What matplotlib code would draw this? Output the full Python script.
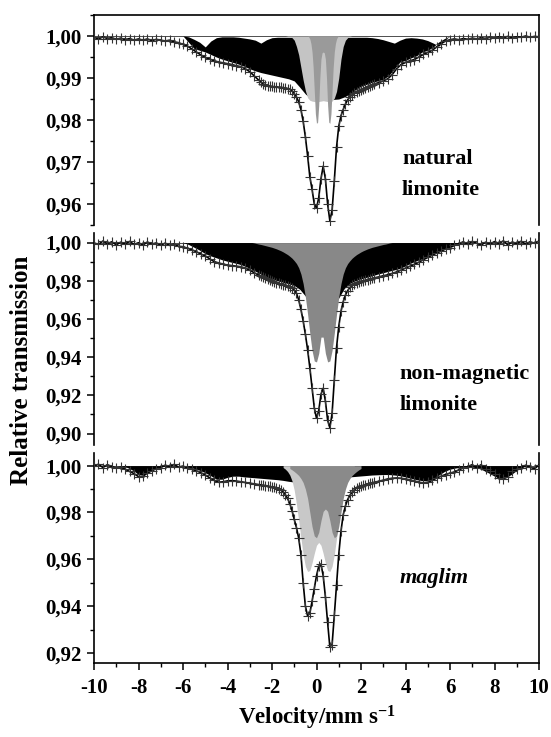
import numpy as np
import matplotlib
matplotlib.use("Agg")
import matplotlib.pyplot as plt
from matplotlib.ticker import MultipleLocator, FuncFormatter

# channel velocities: coarse outside, finer around the central doublet
VEL = np.concatenate([
    np.round(np.arange(-10.0, -2.55, 0.2), 2),
    np.round(np.arange(-2.5, 2.55, 0.1), 2),
    np.round(np.arange(2.6, 10.05, 0.2), 2),
])

# ---- natural limonite ----
nat_counts = (
    [0.9997, 0.9993, 0.9998, 0.9994, 0.9996, 0.9992, 0.9995, 0.9991, 0.9994, 0.9990,
     0.9993, 0.9990, 0.9993, 0.9989, 0.9992, 0.9990, 0.9988, 0.9990, 0.9986, 0.9984,
     0.9980, 0.9976, 0.9969, 0.9962, 0.9955, 0.9949, 0.9945, 0.9941, 0.9938, 0.9936,
     0.9934, 0.9932, 0.9929, 0.9927, 0.9922, 0.9915, 0.9905, 0.9895]
    + [0.9890, 0.9886, 0.9884, 0.9882, 0.9881, 0.9880, 0.9879, 0.9879, 0.9878, 0.9878,
       0.9877, 0.9876, 0.9875, 0.9873, 0.9870, 0.9863, 0.9855, 0.9843, 0.9825, 0.9797,
       0.9760, 0.9715, 0.9665, 0.9635, 0.9600, 0.9590, 0.9615, 0.9660, 0.9690, 0.9660,
       0.9600, 0.9560, 0.9585, 0.9655, 0.9735, 0.9785, 0.9810, 0.9825, 0.9838, 0.9848,
       0.9855, 0.9860, 0.9864, 0.9867, 0.9870, 0.9872, 0.9875, 0.9877, 0.9879, 0.9882,
       0.9884]
    + [0.9886, 0.9889, 0.9893, 0.9898, 0.9908, 0.9922, 0.9932, 0.9937, 0.9941, 0.9944,
       0.9950, 0.9956, 0.9961, 0.9966, 0.9974, 0.9982, 0.9988, 0.9991, 0.9993, 0.9991,
       0.9994, 0.9992, 0.9995, 0.9993, 0.9996, 0.9994, 0.9997, 0.9995, 0.9998, 0.9996,
       0.9999, 0.9996, 0.9998, 0.9997, 1.0000, 0.9997, 0.9999, 0.9998]
)
nat_mag_v = np.arange(-6.0, 6.01, 0.25)
nat_mag_top = [
    1.0, 0.9998, 0.9992, 0.9985, 0.9974, 0.9988, 0.9996, 0.9998, 0.9998, 0.9998,
    0.9997, 0.9995, 0.9993, 0.9990, 0.9983, 0.9991, 0.9996, 0.9997, 0.9997, 0.9997,
    0.9997, 0.9997, 0.9997, 0.9997, 0.9997, 0.9997, 0.9997, 0.9997, 0.9997, 0.9997,
    0.9997, 0.9997, 0.9997, 0.9997, 0.9996, 0.9994, 0.9991, 0.9987, 0.9983, 0.9990,
    0.9995, 0.9996, 0.9995, 0.9993, 0.9989, 0.9983, 0.9976, 0.9990, 1.0]
nat_mag_bot = [
    1.0, 0.9985, 0.9970, 0.9966, 0.9962, 0.9956, 0.9950, 0.9945, 0.9941, 0.9937,
    0.9933, 0.9928, 0.9922, 0.9917, 0.9913, 0.9910, 0.9907, 0.9904, 0.9901, 0.9898,
    0.9893, 0.9878, 0.9862, 0.9851, 0.9848, 0.9848, 0.9848, 0.9849, 0.9850, 0.9855,
    0.9862, 0.9872, 0.9880, 0.9885, 0.9890, 0.9893, 0.9897, 0.9906, 0.9922, 0.9938,
    0.9942, 0.9948, 0.9953, 0.9962, 0.9966, 0.9974, 0.9986, 0.9994, 1.0]
nat_d1_v = np.arange(-1.5, 1.85, 0.1)
nat_d1 = [
    1.0, 1.0, 0.9999, 0.9998, 0.9996, 0.9990, 0.9975, 0.9955, 0.9925, 0.9895,
    0.9870, 0.9853, 0.9847, 0.9845, 0.9844, 0.9843, 0.9844, 0.9845, 0.9846, 0.9845,
    0.9844, 0.9843, 0.9845, 0.9852, 0.9868, 0.9900, 0.9945, 0.9975, 0.9990, 0.9996,
    0.9999, 1.0, 1.0, 1.0]
nat_d2_v = np.arange(-0.4, 1.01, 0.05)
nat_d2 = [
    1.0, 0.9998, 0.9993, 0.9982, 0.9962, 0.9925, 0.9870, 0.9815, 0.9792, 0.9795,
    0.9835, 0.9900, 0.9945, 0.9960, 0.9962, 0.9960, 0.9945, 0.9900, 0.9835, 0.9795,
    0.9792, 0.9815, 0.9870, 0.9925, 0.9962, 0.9982, 0.9993, 0.9998, 1.0]

# ---- non-magnetic limonite ----
nonmag_counts = (
    [0.9998, 0.9990, 1.0008, 0.9994, 1.0004, 0.9988, 1.0002, 0.9993, 1.0006, 0.9990,
     0.9999, 0.9987, 1.0003, 0.9992, 0.9998, 0.9986, 0.9997, 0.9985, 0.9992, 0.9980,
     0.9978, 0.9970, 0.9962, 0.9952, 0.9940, 0.9930, 0.9915, 0.9900, 0.9893, 0.9887,
     0.9882, 0.9879, 0.9876, 0.9873, 0.9866, 0.9855, 0.9842, 0.9830]
    + [0.9825, 0.9818, 0.9812, 0.9808, 0.9803, 0.9798, 0.9794, 0.9790, 0.9786, 0.9783,
       0.9780, 0.9777, 0.9773, 0.9768, 0.9762, 0.9752, 0.9735, 0.9700, 0.9650, 0.9590,
       0.9520, 0.9440, 0.9345, 0.9240, 0.9135, 0.9080, 0.9120, 0.9205, 0.9237, 0.9170,
       0.9070, 0.9030, 0.9105, 0.9280, 0.9450, 0.9560, 0.9640, 0.9690, 0.9725, 0.9748,
       0.9765, 0.9777, 0.9785, 0.9790, 0.9794, 0.9797, 0.9800, 0.9803, 0.9806, 0.9809,
       0.9812]
    + [0.9815, 0.9820, 0.9826, 0.9831, 0.9838, 0.9846, 0.9856, 0.9866, 0.9876, 0.9886,
       0.9897, 0.9910, 0.9922, 0.9934, 0.9945, 0.9955, 0.9966, 0.9974, 0.9985, 0.9994,
       1.0004, 0.9990, 1.0006, 0.9996, 0.9987, 1.0002, 0.9992, 1.0005, 0.9995, 1.0009,
       0.9988, 1.0003, 0.9994, 1.0007, 0.9992, 1.0004, 0.9996, 1.0008]
)
nonmag_mag_v = np.arange(-6.0, 6.51, 0.25)
nonmag_mag = [
    1.0, 0.9990, 0.9975, 0.9960, 0.9942, 0.9930, 0.9920, 0.9910, 0.9902, 0.9895,
    0.9888, 0.9878, 0.9865, 0.9850, 0.9835, 0.9822, 0.9810, 0.9800, 0.9792, 0.9784,
    0.9775, 0.9755, 0.9720, 0.9670, 0.9645, 0.9640, 0.9645, 0.9665, 0.9710, 0.9760,
    0.9785, 0.9800, 0.9810, 0.9818, 0.9826, 0.9835, 0.9842, 0.9850, 0.9857, 0.9865,
    0.9878, 0.9893, 0.9905, 0.9915, 0.9930, 0.9942, 0.9954, 0.9966, 0.9978, 0.9990,
    1.0]
nonmag_dbl_v = np.arange(-2.9, 3.45, 0.1)
nonmag_dbl = [
    1.0, 0.9998, 0.9995, 0.9992, 0.9990, 0.9987, 0.9984, 0.9981, 0.9978, 0.9975,
    0.9971, 0.9967, 0.9962, 0.9957, 0.9951, 0.9944, 0.9937, 0.9928, 0.9918, 0.9905,
    0.9890, 0.9868, 0.9835, 0.9785, 0.9715, 0.9625, 0.9525, 0.9435, 0.9380, 0.9375,
    0.9420, 0.9505, 0.9505, 0.9420, 0.9375, 0.9380, 0.9435, 0.9525, 0.9625, 0.9715,
    0.9785, 0.9835, 0.9868, 0.9890, 0.9905, 0.9918, 0.9928, 0.9937, 0.9944, 0.9951,
    0.9957, 0.9962, 0.9967, 0.9971, 0.9975, 0.9978, 0.9981, 0.9984, 0.9987, 0.9990,
    0.9992, 0.9995, 0.9998, 1.0]

# ---- maglim ----
maglim_counts = (
    [0.9998, 1.0006, 0.9992, 1.0004, 0.9996, 0.9990, 0.9993, 0.9985, 0.9975, 0.9966,
     0.9953, 0.9955, 0.9968, 0.9978, 0.9987, 0.9992, 1.0002, 0.9996, 1.0005, 0.9994,
     0.9998, 0.9990, 0.9984, 0.9978, 0.9970, 0.9960, 0.9948, 0.9937, 0.9929, 0.9931,
     0.9935, 0.9936, 0.9934, 0.9931, 0.9928, 0.9925, 0.9922, 0.9919]
    + [0.9918, 0.9916, 0.9915, 0.9913, 0.9911, 0.9909, 0.9907, 0.9904, 0.9901, 0.9896,
       0.9888, 0.9876, 0.9860, 0.9838, 0.9808, 0.9770, 0.9735, 0.9690, 0.9620, 0.9500,
       0.9400, 0.9358, 0.9370, 0.9420, 0.9475, 0.9530, 0.9570, 0.9580, 0.9530, 0.9440,
       0.9330, 0.9225, 0.9235, 0.9360, 0.9490, 0.9620, 0.9720, 0.9790, 0.9828, 0.9855,
       0.9873, 0.9887, 0.9897, 0.9904, 0.9909, 0.9913, 0.9916, 0.9919, 0.9922, 0.9925,
       0.9927]
    + [0.9929, 0.9933, 0.9938, 0.9943, 0.9946, 0.9947, 0.9946, 0.9943, 0.9939, 0.9934,
       0.9929, 0.9926, 0.9928, 0.9937, 0.9947, 0.9955, 0.9962, 0.9968, 0.9973, 0.9982,
       0.9990, 0.9996, 1.0004, 0.9992, 1.0004, 0.9986, 0.9978, 0.9964, 0.9946, 0.9944,
       0.9952, 0.9975, 0.9986, 0.9990, 1.0002, 0.9993, 0.9987, 1.0003]
)
maglim_mag_v = np.arange(-9.0, 9.51, 0.25)
maglim_mag = [
    1.0, 0.9998, 0.9992, 0.9980, 0.9962, 0.9962, 0.9978, 0.9990, 0.9995, 0.9998,
    0.9999, 0.9998, 0.9996, 0.9993, 0.9988, 0.9980, 0.9970, 0.9957, 0.9942, 0.9942,
    0.9950, 0.9955, 0.9955, 0.9952, 0.9950, 0.9948, 0.9946, 0.9944, 0.9942, 0.9940,
    0.9937, 0.9933, 0.9930, 0.9930, 0.9932, 0.9935, 0.9938, 0.9940, 0.9942, 0.9945,
    0.9948, 0.9950, 0.9952, 0.9954, 0.9956, 0.9958, 0.9960, 0.9961, 0.9962, 0.9962,
    0.9960, 0.9957, 0.9952, 0.9946, 0.9940, 0.9936, 0.9935, 0.9945, 0.9960, 0.9975,
    0.9985, 0.9990, 0.9993, 0.9995, 0.9994, 0.9990, 0.9980, 0.9968, 0.9955, 0.9948,
    0.9950, 0.9962, 0.9980, 0.9993, 1.0]
maglim_d1_v = np.arange(-1.5, 1.75, 0.1)
maglim_d1 = [
    0.9992, 0.9985, 0.9975, 0.9960, 0.9935, 0.9895, 0.9835, 0.9765, 0.9690, 0.9620,
    0.9570, 0.9548, 0.9552, 0.9585, 0.9625, 0.9660, 0.9672, 0.9660, 0.9625, 0.9585,
    0.9552, 0.9548, 0.9570, 0.9620, 0.9690, 0.9765, 0.9835, 0.9895, 0.9935, 0.9960,
    0.9975, 0.9985, 0.9992]
maglim_d2_v = np.arange(-1.2, 2.05, 0.1)
maglim_d2 = [
    0.9988, 0.9982, 0.9975, 0.9967, 0.9958, 0.9945, 0.9928, 0.9900, 0.9860, 0.9800,
    0.9740, 0.9700, 0.9692, 0.9715, 0.9765, 0.9805, 0.9815, 0.9805, 0.9765, 0.9715,
    0.9692, 0.9700, 0.9740, 0.9800, 0.9860, 0.9900, 0.9928, 0.9945, 0.9958, 0.9967,
    0.9975, 0.9982, 0.9988]

labels = [["natural", "limonite"], ["non-magnetic", "limonite"], ["maglim"]]


def comma(y, pos):
    return f"{y:.2f}".replace(".", ",")


def draw_spectrum(ax, counts, mag, light, dark):
    ax.axhline(1.0, color="0.3", lw=0.7, zorder=1)
    ax.fill_between(mag[0], mag[1], mag[2], color="black", lw=0, zorder=2)
    ax.fill_between(light[0], 1.0, light[1], color=light[2], lw=0, zorder=3)
    if dark is not None:
        ax.fill_between(dark[0], 1.0, dark[1], color=dark[2], lw=0, zorder=4)
    ax.plot(VEL, counts, color="black", lw=1.2, zorder=5)
    ax.plot(VEL, counts, ls="none", marker="+", ms=7, mew=0.8,
            color="0.2", zorder=6)


def main():
    plt.rcParams["font.family"] = ["Liberation Serif", "DejaVu Serif"]
    plt.rcParams["font.weight"] = "bold"
    plt.rcParams["axes.labelweight"] = "bold"
    plt.rcParams["mathtext.fontset"] = "custom"
    plt.rcParams["mathtext.rm"] = "Liberation Serif:weight=bold"
    plt.rcParams["mathtext.bf"] = "Liberation Serif:weight=bold"
    plt.rcParams["mathtext.default"] = "rm"

    fig = plt.figure(figsize=(5.51, 7.37), dpi=100)
    left, width = 94 / 551, 445 / 551
    boxes = [(15, 225), (233, 445), (453, 663)]
    axes = [fig.add_axes([left, 1 - b / 737, width, (b - t) / 737])
            for t, b in boxes]
    a1, a2, a3 = axes

    draw_spectrum(a1, nat_counts,
                  (nat_mag_v, nat_mag_top, nat_mag_bot),
                  (nat_d1_v, nat_d1, "#c4c4c4"),
                  (nat_d2_v, nat_d2, "#9a9a9a"))
    draw_spectrum(a2, nonmag_counts,
                  (nonmag_mag_v, 1.0, nonmag_mag),
                  (nonmag_dbl_v, nonmag_dbl, "#888888"),
                  None)
    draw_spectrum(a3, maglim_counts,
                  (maglim_mag_v, 1.0, maglim_mag),
                  (maglim_d1_v, maglim_d1, "#c8c8c8"),
                  (maglim_d2_v, maglim_d2, "#8a8a8a"))

    a1.set_ylim(0.955, 1.005)
    a1.yaxis.set_major_locator(MultipleLocator(0.01))
    a1.yaxis.set_minor_locator(MultipleLocator(0.005))
    a2.set_ylim(0.894, 1.005)
    a3.set_ylim(0.9157, 1.0054)
    for ax in (a2, a3):
        ax.yaxis.set_major_locator(MultipleLocator(0.02))
        ax.yaxis.set_minor_locator(MultipleLocator(0.01))

    for ax in axes:
        ax.set_xlim(-10, 10)
        ax.yaxis.set_major_formatter(FuncFormatter(comma))
        ax.tick_params(axis="both", which="major", direction="out",
                       length=5, width=1.1, labelsize=15, pad=4)
        ax.tick_params(axis="both", which="minor", direction="out",
                       length=3, width=1.0)
        for s in ax.spines.values():
            s.set_linewidth(1.2)
        ax.spines["bottom"].set_visible(False)
        ax.spines["top"].set_visible(False)
        ax.tick_params(axis="x", which="both", bottom=False, labelbottom=False)

    a1.spines["top"].set_visible(True)
    a3.spines["bottom"].set_visible(True)
    a3.tick_params(axis="x", which="both", bottom=True, labelbottom=True)
    a3.tick_params(axis="x", which="major", pad=6)
    a3.xaxis.set_major_locator(MultipleLocator(2))
    a3.xaxis.set_minor_locator(MultipleLocator(1))
    a3.xaxis.set_major_formatter(FuncFormatter(lambda x, pos: f"{x:.0f}"))
    a3.set_xlabel("Velocity/mm s$^{-1}$", fontsize=16.5, fontweight="bold",
                  labelpad=4)

    fig.text(22 / 551, 1 - 370 / 737, "Relative transmission", rotation=90,
             ha="center", va="center", fontsize=18)

    a1.text(3.84, 0.9696, labels[0][0], fontsize=16)
    a1.text(3.84, 0.9621, labels[0][1], fontsize=16)
    a2.text(3.72, 0.9288, labels[1][0], fontsize=16)
    a2.text(3.72, 0.9121, labels[1][1], fontsize=16)
    a3.text(3.75, 0.9498, labels[2][0], fontsize=16, style="italic")

    fig.savefig("out.png", dpi=100)


if __name__ == "__main__":
    main()
